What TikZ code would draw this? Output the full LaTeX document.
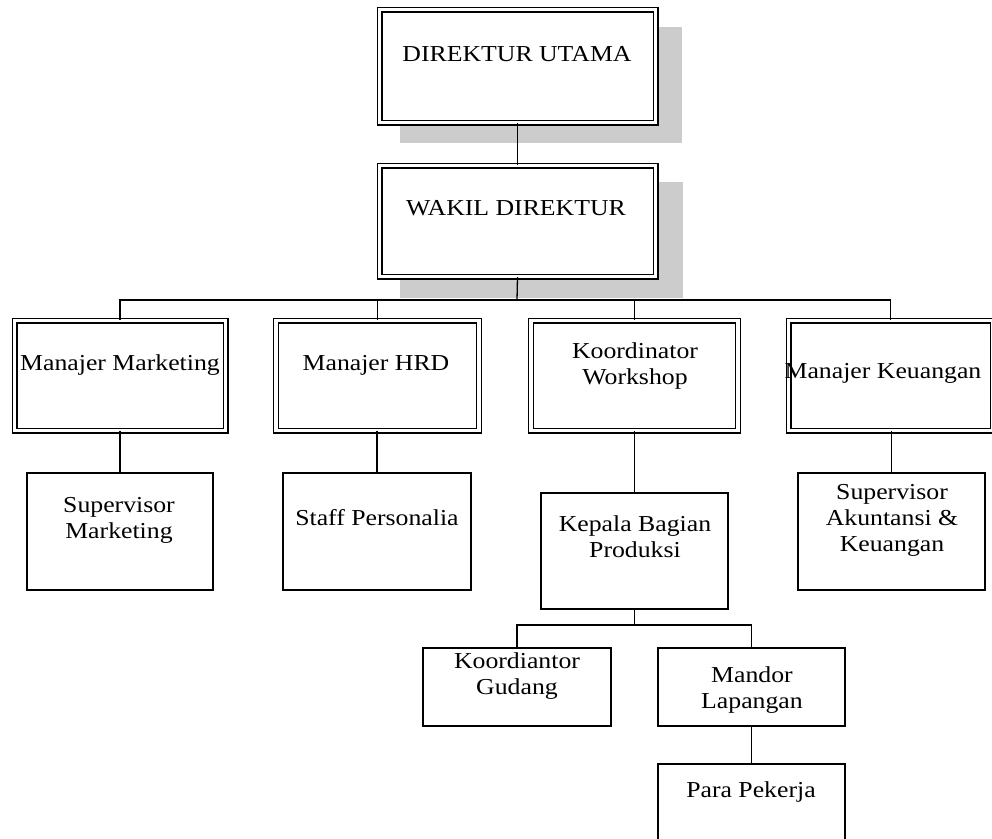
\documentclass[tikz,border=0pt]{standalone}
\usepackage{fontspec}
\setmainfont{Liberation Serif}[FakeStretch=1.13]
\begin{document}
\begin{tikzpicture}[x=1pt,y=-1pt,
  dbox/.style={draw=black, line width=1.3pt, double=white, double distance=3.4pt, fill=white, inner sep=0pt, minimum width=#1},
  sbox/.style={draw=black, line width=1.4pt, fill=white, inner sep=0pt, minimum width=#1},
  shadowbox/.style={fill=black!20, draw=none},
  lbl/.style={inner sep=0pt, anchor=base, align=center, font=\fontsize{22.8}{26}\selectfont},
  conn/.style={draw=black, line width=1.3pt}]
\useasboundingbox (0,0) rectangle (992,838);
\clip (0,0) rectangle (992,838);
\fill[white] (0,0) rectangle (992,838);
% shadows
\fill[shadowbox] (400,27) rectangle (682,143);
\fill[shadowbox] (400,182) rectangle (683,298);
% coordinates for buses
\coordinate (bus) at (517,300);
\coordinate (bus2) at (634.5,625);
% top boxes
\node[dbox=276pt, minimum height=113pt] (du) at (517.5,66) {};
\node[dbox=276pt, minimum height=111pt] (wd) at (517.5,221) {};
% level 2
\node[dbox=211pt, minimum height=110pt] (mm) at (120,375.5) {};
\node[dbox=203pt, minimum height=110pt] (mh) at (377.5,375.5) {};
\node[dbox=207pt, minimum height=110pt] (kw) at (634.5,375.5) {};
\node[dbox=204pt, minimum height=110pt] (mk) at (890.5,375.5) {};
% level 3
\node[sbox=186pt, minimum height=117pt] (sm) at (120,531.5) {};
\node[sbox=188pt, minimum height=117pt] (sp) at (377,531.5) {};
\node[sbox=187pt, minimum height=116pt] (kb) at (634.5,551) {};
\node[sbox=187pt, minimum height=117pt] (sa) at (891.5,531.5) {};
% level 4
\node[sbox=188pt, minimum height=78pt] (kg) at (517,687) {};
\node[sbox=187pt, minimum height=78pt] (ml) at (751.5,687) {};
\node[sbox=187pt, minimum height=120pt] (pp) at (751.5,824) {};
% connectors
\draw[conn] (du.south) -- (wd.north);
\draw[conn] (wd.south) -- (bus);
\draw[conn] (mm.north) |- (bus);
\draw[conn] (mh.north |- bus) -- (mh.north);
\draw[conn] (kw.north |- bus) -- (kw.north);
\draw[conn] (mk.north) |- (bus);
\draw[conn] (mm.south) -- (sm.north);
\draw[conn] (mh.south -| sp.north) -- (sp.north);
\draw[conn] (kw.south) -- (kb.north);
\draw[conn] (mk.south -| sa.north) -- (sa.north);
\draw[conn] (kb.south) -- (bus2);
\draw[conn] (kg.north) |- (bus2);
\draw[conn] (ml.north) |- (bus2);
\draw[conn] (ml.south) -- (pp.north);
% labels (base anchor = baseline of the last line)
\node[lbl] (tdu) at (517,61) {DIREKTUR UTAMA};
\node[lbl] (twd) at (516,215) {WAKIL DIREKTUR};
\node[lbl] (tmm) at (120,370) {Manajer Marketing};
\node[lbl] (tmh) at (376,370) {Manajer HRD};
\node[lbl] (tkw) at (635,384) {Koordinator\\Workshop};
\node[lbl] (tmk) at (883,378) {Manajer Keuangan};
\node[lbl] (tsm) at (119,538) {Supervisor\\Marketing};
\node[lbl] (tsp) at (377,525) {Staff Personalia};
\node[lbl] (tkb) at (635,557) {Kepala Bagian\\Produksi};
\node[lbl] (tsa) at (892,551) {Supervisor\\Akuntansi \&\\Keuangan};
\node[lbl] (tkg) at (517,694) {Koordiantor\\Gudang};
\node[lbl] (tml) at (752,708) {Mandor\\Lapangan};
\node[lbl] (tpp) at (751,797) {Para Pekerja};
\end{tikzpicture}
\end{document}
